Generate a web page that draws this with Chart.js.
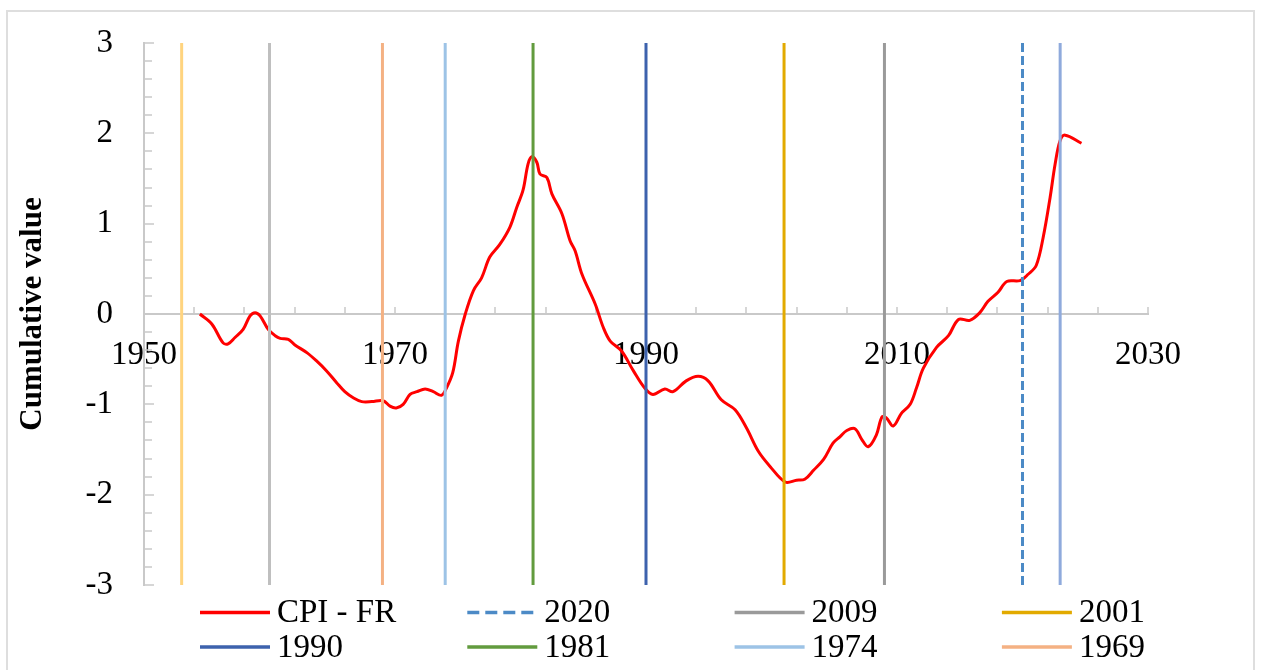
<!DOCTYPE html>
<html>
<head>
<meta charset="utf-8">
<title>CPI - FR cumulative value</title>
<script src="https://cdn.jsdelivr.net/npm/chart.js@4.4.1/dist/chart.umd.min.js"></script>
<style>
  html, body { margin: 0; padding: 0; background: #fff; overflow: hidden; }
  #wrap { position: relative; width: 1262px; height: 670px; }
  #frame { position: absolute; left: 6px; top: 10px; width: 1245px; height: 700px; border: 2px solid #dedede; }
  #cpiChart { position: absolute; left: 0; top: 0; }
</style>
</head>
<body>
<div id="wrap">
  <div id="frame"></div>
  <canvas id="cpiChart" width="1262" height="670"></canvas>
</div>
<script>
// CPI - FR series (year, cumulative value)
const cpiYears = [
  1954.45, 1955.4, 1956.3, 1956.7, 1957.25, 1957.9, 1958.45, 1958.85, 1959.25, 1959.9,
  1960.45, 1960.85, 1961.5, 1962.0, 1963.0, 1963.75, 1964.55, 1965.35, 1966.0, 1966.7,
  1967.35, 1968.15, 1969.05, 1969.6, 1970.1, 1970.65, 1971.2, 1971.75, 1972.4, 1973.05,
  1973.7, 1974.1, 1974.6, 1975.05, 1975.6, 1976.25, 1976.9, 1977.55, 1978.35, 1979.15,
  1979.7, 1980.2, 1980.6, 1980.9, 1981.3, 1981.55, 1982.1, 1982.5, 1983.3, 1983.95,
  1984.35, 1984.9, 1985.95, 1986.6, 1987.15, 1988.05, 1989.0, 1989.9, 1990.55, 1991.5,
  1992.15, 1993.2, 1994.15, 1994.95, 1996.0, 1997.1, 1998.0, 1998.95, 1999.9, 2001.1,
  2002.0, 2002.65, 2003.35, 2004.15, 2004.9, 2005.45, 2006.0, 2006.65, 2007.2, 2007.7,
  2008.35, 2008.8, 2009.15, 2009.7, 2010.35, 2011.05, 2011.55, 2012.1, 2013.15, 2014.1,
  2014.9, 2015.8, 2016.6, 2017.25, 2018.05, 2018.75, 2019.8, 2020.45, 2021.1, 2021.65,
  2022.2, 2022.6, 2023.0, 2023.4, 2024.7
]
const cpiValues = [
  0.00, -0.11, -0.32, -0.33, -0.26, -0.17, -0.02, 0.015, -0.02, -0.17,
  -0.24, -0.27, -0.28, -0.34, -0.43, -0.52, -0.63, -0.76, -0.86, -0.93,
  -0.97, -0.97, -0.96, -1.02, -1.04, -1.00, -0.89, -0.86, -0.83, -0.86,
  -0.90, -0.82, -0.65, -0.30, 0.00, 0.26, 0.40, 0.63, 0.77, 0.96,
  1.18, 1.37, 1.66, 1.74, 1.68, 1.55, 1.51, 1.33, 1.11, 0.81,
  0.70, 0.44, 0.11, -0.15, -0.30, -0.41, -0.63, -0.82, -0.89, -0.83,
  -0.86, -0.74, -0.69, -0.74, -0.95, -1.06, -1.26, -1.52, -1.69, -1.86,
  -1.84, -1.83, -1.73, -1.61, -1.43, -1.36, -1.29, -1.27, -1.39, -1.47,
  -1.34, -1.14, -1.15, -1.24, -1.10, -1.00, -0.82, -0.60, -0.37, -0.24,
  -0.06, -0.07, 0.015, 0.14, 0.24, 0.36, 0.37, 0.44, 0.54, 0.85,
  1.29, 1.66, 1.92, 1.98, 1.89
]

// event years drawn as vertical lines; only some of them appear in the legend
const eventYears = [2020, 2009, 2001, 1990, 1981, 1974, 1969, 1953, 1960, 2023]
const eventLabels = ['2020', '2009', '2001', '1990', '1981', '1974', '1969', '', '', '']
const eventColors = ['#4c8ac6', '#9a9a9a', '#e2aa00', '#3d62ad', '#629b3e', '#9dc3e6', '#f4b183', '#ffd47f', '#bfbfbf', '#8faadc']
const eventDashed = [true, false, false, false, false, false, false, false, false, false]

const xTickLabels = [1950, 1970, 1990, 2010, 2030]
const yTickLabels = [-3, -2, -1, 0, 1, 2, 3]

const FONT = "'Liberation Serif', 'Times New Roman', serif"
const AXIS_COLOR = '#c9c9c9'

const ctx = document.getElementById('cpiChart')

const cpiDataset = {
  label: 'CPI - FR',
  data: cpiYears.map((year, i) => ({ x: year, y: cpiValues[i] })),
  borderColor: '#ff0000',
  borderWidth: 3,
  pointRadius: 0,
  tension: 0.35,
  order: 1
}

const eventDatasets = eventYears.map((year, i) => ({
  label: eventLabels[i],
  data: [{ x: year, y: yTickLabels[0] }, { x: year, y: yTickLabels[yTickLabels.length - 1] }],
  borderColor: eventColors[i],
  borderWidth: 3,
  borderDash: eventDashed[i] ? [9, 4] : [],
  pointRadius: 0,
  order: 0
}))

// small inside tick marks like the original axes
const axisTicks = {
  id: 'axisTicks',
  beforeDatasetsDraw(chart) {
    const { ctx, scales: { x, y } } = chart
    const y0 = y.getPixelForValue(0)
    ctx.save()
    ctx.strokeStyle = AXIS_COLOR
    ctx.lineWidth = 1.5
    ctx.beginPath()
    for (let yr = x.min + 4; yr <= x.max; yr += 4) {
      const px = Math.round(x.getPixelForValue(yr))
      ctx.moveTo(px, y0)
      ctx.lineTo(px, y0 - 7)
    }
    for (let k = yTickLabels[0] * 5; k <= yTickLabels[yTickLabels.length - 1] * 5; k++) {
      const py = Math.round(y.getPixelForValue(k / 5))
      const len = k % 5 === 0 ? 10 : 8
      ctx.moveTo(x.left, py)
      ctx.lineTo(x.left + len, py)
    }
    ctx.stroke()
    ctx.restore()
  }
}

// legend laid out in fixed columns, as in the original
const legendOrder = ['CPI - FR', '2020', '2009', '2001', '1990', '1981', '1974', '1969']
const columnLegend = {
  id: 'columnLegend',
  afterDraw(chart) {
    const { ctx } = chart
    const datasets = chart.data.datasets
    ctx.save()
    ctx.font = `33px ${FONT}`
    ctx.textBaseline = 'middle'
    ctx.fillStyle = '#000'
    legendOrder.forEach((name, i) => {
      const ds = datasets.find(d => d.label === name)
      const col = i % 4
      const row = Math.floor(i / 4)
      const lx = 200 + col * 267.3
      const ly = 612.5 + row * 34.5
      ctx.strokeStyle = ds.borderColor
      ctx.lineWidth = 3.5
      ctx.setLineDash(ds.borderDash && ds.borderDash.length ? [12, 6] : [])
      ctx.beginPath()
      ctx.moveTo(lx, ly)
      ctx.lineTo(lx + 70, ly)
      ctx.stroke()
      ctx.fillText(name, lx + 77, ly + 1)
    })
    ctx.restore()
  }
}

const cpiChart = new Chart(ctx, {
  type: 'line',
  data: {
    datasets: [cpiDataset, ...eventDatasets]
  },
  options: {
    responsive: false,
    animation: false,
    devicePixelRatio: 1,
    layout: { autoPadding: false, padding: { left: 0, top: 43, right: 114, bottom: 85 } },
    plugins: {
      legend: { display: false },
      tooltip: { enabled: false }
    },
    scales: {
      x: {
        type: 'linear',
        position: { y: 0 },
        min: xTickLabels[0],
        max: xTickLabels[xTickLabels.length - 1],
        afterBuildTicks: (scale) => { scale.ticks = xTickLabels.map(v => ({ value: v })) },
        grid: { drawOnChartArea: false, drawTicks: false },
        border: { display: true, color: AXIS_COLOR, width: 2 },
        ticks: {
          autoSkip: false,
          maxRotation: 0,
          padding: 22,
          color: '#000',
          font: { family: FONT, size: 33 },
          callback: (value) => String(value)
        }
      },
      y: {
        min: yTickLabels[0],
        max: yTickLabels[yTickLabels.length - 1],
        afterBuildTicks: (scale) => { scale.ticks = yTickLabels.map(v => ({ value: v })) },
        afterFit: (scale) => {
          scale.width = 144
          scale.paddingTop = 0
          scale.paddingBottom = 0
        },
        grid: { drawOnChartArea: false, drawTicks: false },
        border: { display: true, color: AXIS_COLOR, width: 2 },
        ticks: {
          padding: 31,
          color: '#000',
          font: { family: FONT, size: 33 }
        },
        title: {
          display: true,
          text: 'Cumulative value',
          color: '#000',
          padding: { top: 14, bottom: 0 },
          font: { family: FONT, size: 31, weight: 'bold' }
        }
      }
    }
  },
  plugins: [axisTicks, columnLegend]
})
</script>
</body>
</html>
